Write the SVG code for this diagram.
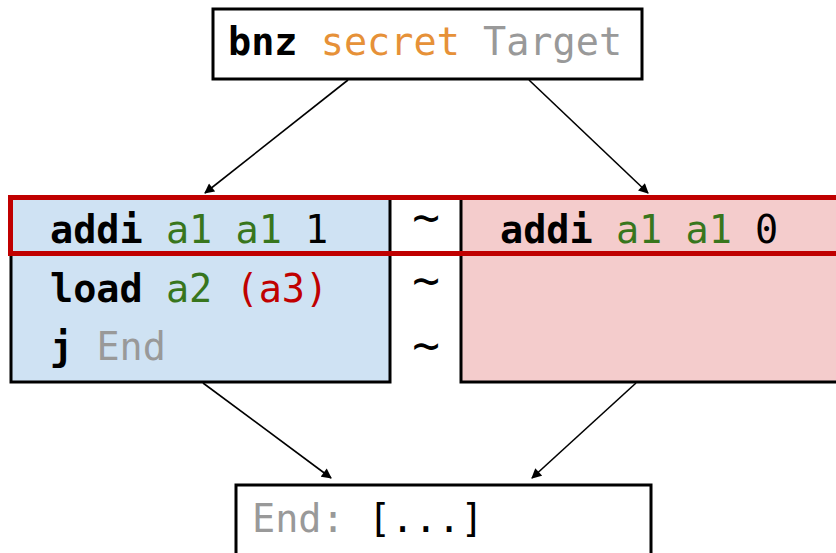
<svg xmlns="http://www.w3.org/2000/svg" width="836" height="553" viewBox="0 0 836 553">
  <defs>
    <style>
      text { font-family: "DejaVu Sans Mono", "Liberation Mono", monospace; font-size: 38.5px; fill: #000; }
      .op { font-weight: bold; }
      .reg { fill: #38761d; }
      .sec { fill: #e69138; }
      .lbl { fill: #999999; }
      .mem { fill: #c00000; }
      .tilde { font-size: 46px; }
      .box { stroke: #000; stroke-width: 3; }
      .edge { stroke: #000; stroke-width: 1.6; fill: none; marker-end: url(#arrow); }
    </style>
    <marker id="arrow" viewBox="0 0 10 10" refX="9" refY="5" markerWidth="11" markerHeight="10" markerUnits="userSpaceOnUse" orient="auto">
      <path d="M0,0 L10,5 L0,10 z" fill="#000"/>
    </marker>
  </defs>

  <rect width="836" height="553" fill="#fff"/>

  <!-- branch block -->
  <g id="branch">
    <rect class="box" x="213" y="9" width="429" height="70" fill="#fff"/>
    <text x="228" y="55"><tspan class="op">bnz</tspan> <tspan class="sec">secret</tspan> <tspan class="lbl">Target</tspan></text>
  </g>

  <!-- taken path -->
  <g id="taken">
    <rect class="box" x="11" y="198" width="379" height="184" fill="#cfe2f3"/>
    <text x="50" y="243"><tspan class="op">addi</tspan> <tspan class="reg">a1</tspan> <tspan class="reg">a1</tspan> 1</text>
    <text x="50" y="302"><tspan class="op">load</tspan> <tspan class="reg">a2</tspan> <tspan class="mem">(a3)</tspan></text>
    <text x="50" y="360"><tspan class="op">j</tspan> <tspan class="lbl">End</tspan></text>
  </g>

  <!-- fall-through path -->
  <g id="fallthrough">
    <rect class="box" x="461" y="198" width="390" height="184" fill="#f4cccc"/>
    <text x="500" y="243"><tspan class="op">addi</tspan> <tspan class="reg">a1</tspan> <tspan class="reg">a1</tspan> 0</text>
  </g>

  <!-- equivalence marks -->
  <g id="equiv">
    <text class="tilde" x="426" y="233" text-anchor="middle">~</text>
    <text class="tilde" x="426" y="296" text-anchor="middle">~</text>
    <text class="tilde" x="426" y="361" text-anchor="middle">~</text>
  </g>

  <!-- highlighted instruction pair -->
  <g id="highlight">
    <rect x="10.5" y="197.5" width="850" height="56" fill="none" stroke="#c00000" stroke-width="5"/>
  </g>

  <!-- join block -->
  <g id="join">
    <rect class="box" x="236" y="485" width="415" height="80" fill="#fff"/>
    <text x="252" y="532"><tspan class="lbl">End:</tspan> [...]</text>
  </g>

  <g id="connectors">
    <line class="edge" x1="348" y1="80" x2="205" y2="193"/>
    <line class="edge" x1="529" y1="80" x2="648" y2="193"/>
    <line class="edge" x1="203" y1="383" x2="331" y2="478"/>
    <line class="edge" x1="636" y1="383" x2="532" y2="478"/>
  </g>
</svg>
